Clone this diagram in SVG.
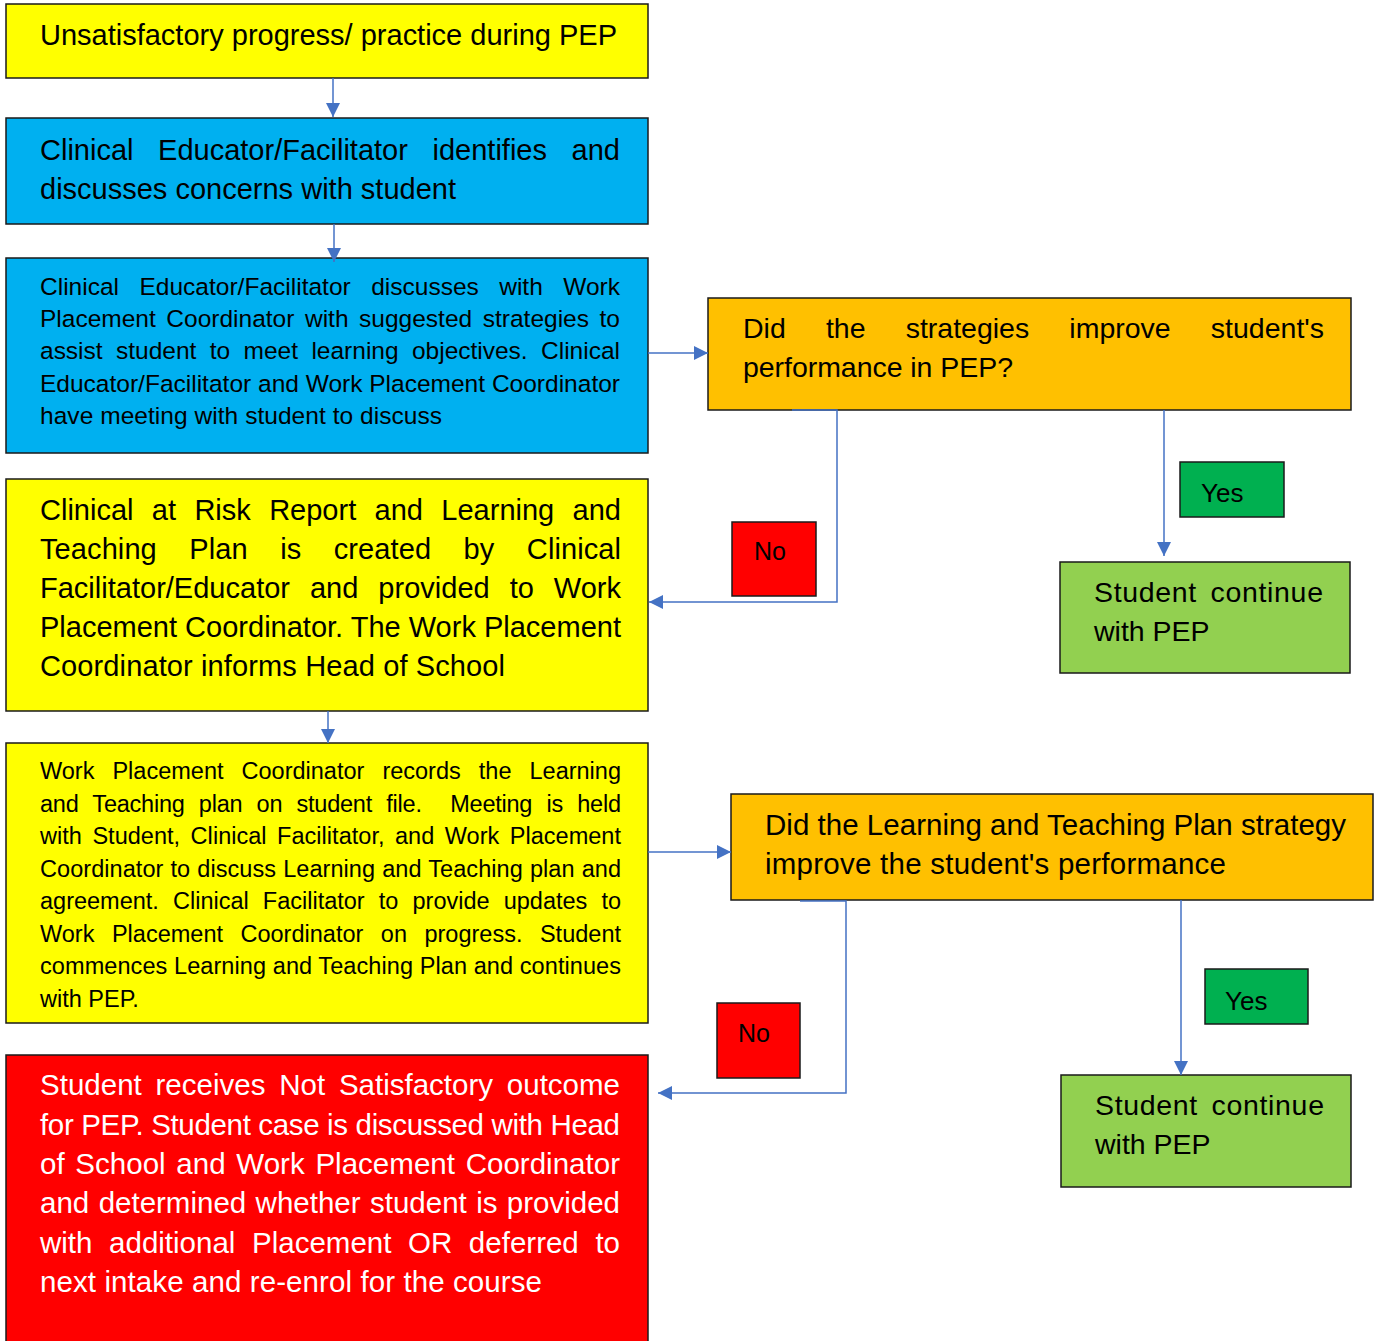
<svg xmlns="http://www.w3.org/2000/svg" width="1381" height="1341" viewBox="0 0 1381 1341">
<style>
.box{stroke:#1a1a1a;stroke-width:1.5}
.yel{fill:#FFFF00}.blu{fill:#00B0F0}.org{fill:#FFC000}.lgr{fill:#92D050}.dgr{fill:#00B050}.red{fill:#FF0000}
text{font-family:"Liberation Sans",Arial,sans-serif;fill:#000}
.w{fill:#fff}
.conn{fill:none;stroke:#4472C4;stroke-width:1.5}
</style>
<defs>
<marker id="ah" markerUnits="userSpaceOnUse" markerWidth="14" markerHeight="14" refX="14" refY="7" orient="auto">
<path d="M0,0 L14,7 L0,14 z" fill="#4472C4"/>
</marker>
</defs>
<rect width="1381" height="1341" fill="#fff"/>

<g id="n1">
<rect class="box yel" x="6" y="4" width="642" height="74"/>
<text x="40" y="45" font-size="29" textLength="577" lengthAdjust="spacing">Unsatisfactory progress/ practice during PEP</text>
</g>

<g id="n2">
<rect class="box blu" x="6" y="118" width="642" height="106"/>
<text x="40" y="160" font-size="29" word-spacing="16.6" textLength="580" lengthAdjust="spacing">Clinical Educator/Facilitator identifies and</text>
<text x="40" y="199" font-size="29" textLength="416" lengthAdjust="spacing">discusses concerns with student</text>
</g>

<g id="n3">
<rect class="box blu" x="6" y="258" width="642" height="195"/>
<g font-size="24.5">
<text x="40" y="295" word-spacing="13.6" textLength="580" lengthAdjust="spacing">Clinical Educator/Facilitator discusses with Work</text>
<text x="40" y="327" word-spacing="3.8" textLength="580" lengthAdjust="spacing">Placement Coordinator with suggested strategies to</text>
<text x="40" y="359" word-spacing="6.6" textLength="580" lengthAdjust="spacing">assist student to meet learning objectives. Clinical</text>
<text x="40" y="392" textLength="580" lengthAdjust="spacing">Educator/Facilitator and Work Placement Coordinator</text>
<text x="40" y="424" textLength="402" lengthAdjust="spacing">have meeting with student to discuss</text>
</g>
</g>

<g id="n4">
<rect class="box yel" x="6" y="479" width="642" height="232"/>
<g font-size="29">
<text x="40" y="520" word-spacing="10.3" textLength="581" lengthAdjust="spacing">Clinical at Risk Report and Learning and</text>
<text x="40" y="559" word-spacing="24.3" textLength="581" lengthAdjust="spacing">Teaching Plan is created by Clinical</text>
<text x="40" y="598" word-spacing="11.9" textLength="581" lengthAdjust="spacing">Facilitator/Educator and provided to Work</text>
<text x="40" y="637" textLength="581" lengthAdjust="spacing">Placement Coordinator. The Work Placement</text>
<text x="40" y="676" textLength="465" lengthAdjust="spacing">Coordinator informs Head of School</text>
</g>
</g>

<g id="n5">
<rect class="box yel" x="6" y="743" width="642" height="280"/>
<g font-size="23.5">
<text x="40" y="779" word-spacing="11.5" textLength="581" lengthAdjust="spacing">Work Placement Coordinator records the Learning</text>
<text x="40" y="812" xml:space="preserve" word-spacing="8" textLength="581" lengthAdjust="spacing">and Teaching plan on student file.  Meeting is held</text>
<text x="40" y="844" word-spacing="3.9" textLength="581" lengthAdjust="spacing">with Student, Clinical Facilitator, and Work Placement</text>
<text x="40" y="877" word-spacing="0.5" textLength="581" lengthAdjust="spacing">Coordinator to discuss Learning and Teaching plan and</text>
<text x="40" y="909" word-spacing="7.6" textLength="581" lengthAdjust="spacing">agreement. Clinical Facilitator to provide updates to</text>
<text x="40" y="942" word-spacing="10.9" textLength="581" lengthAdjust="spacing">Work Placement Coordinator on progress. Student</text>
<text x="40" y="974" textLength="581" lengthAdjust="spacing">commences Learning and Teaching Plan and continues</text>
<text x="40" y="1007">with PEP.</text>
</g>
</g>

<g id="n6">
<rect class="box red" x="6" y="1055" width="642" height="300"/>
<g font-size="29.5">
<text class="w" x="40" y="1095" word-spacing="5.6" textLength="580" lengthAdjust="spacing">Student receives Not Satisfactory outcome</text>
<text class="w" x="40" y="1135" textLength="580" lengthAdjust="spacing">for PEP. Student case is discussed with Head</text>
<text class="w" x="40" y="1174" word-spacing="2.5" textLength="580" lengthAdjust="spacing">of School and Work Placement Coordinator</text>
<text class="w" x="40" y="1213" word-spacing="1.2" textLength="580" lengthAdjust="spacing">and determined whether student is provided</text>
<text class="w" x="40" y="1253" word-spacing="8.4" textLength="580" lengthAdjust="spacing">with additional Placement OR deferred to</text>
<text class="w" x="40" y="1292" textLength="502" lengthAdjust="spacing">next intake and re-enrol for the course</text>
</g>
</g>

<g id="d1">
<rect class="box org" x="708" y="298" width="643" height="112"/>
<text x="743" y="338" font-size="28.5" word-spacing="32.2" textLength="581" lengthAdjust="spacing">Did the strategies improve student's</text>
<text x="743" y="377" font-size="28.5" textLength="270" lengthAdjust="spacing">performance in PEP?</text>
</g>

<g id="d2">
<rect class="box org" x="731" y="794" width="642" height="106"/>
<text x="765" y="835" font-size="29.5" textLength="581" lengthAdjust="spacing">Did the Learning and Teaching Plan strategy</text>
<text x="765" y="874" font-size="29.5" textLength="461" lengthAdjust="spacing">improve the student's performance</text>
</g>

<g id="s1">
<rect class="box lgr" x="1060" y="562" width="290" height="111"/>
<text x="1094" y="602" font-size="28.5" word-spacing="5" textLength="229" lengthAdjust="spacing">Student continue</text>
<text x="1094" y="641" font-size="28.5">with PEP</text>
</g>

<g id="s2">
<rect class="box lgr" x="1061" y="1075" width="290" height="112"/>
<text x="1095" y="1115" font-size="28.5" word-spacing="5" textLength="229" lengthAdjust="spacing">Student continue</text>
<text x="1095" y="1154" font-size="28.5">with PEP</text>
</g>

<g id="y1">
<rect class="box dgr" x="1180" y="462" width="104" height="55"/>
<text x="1201" y="502" font-size="26">Yes</text>
</g>
<g id="no1">
<rect class="box red" x="732" y="522" width="84" height="74"/>
<text x="754" y="560" font-size="25">No</text>
</g>
<g id="y2">
<rect class="box dgr" x="1205" y="969" width="103" height="55"/>
<text x="1225" y="1010" font-size="26">Yes</text>
</g>
<g id="no2">
<rect class="box red" x="717" y="1003" width="83" height="75"/>
<text x="738" y="1042" font-size="25">No</text>
</g>

<g id="connectors">
<path class="conn" d="M333,78 V117" marker-end="url(#ah)"/>
<path class="conn" d="M334,224 V262" marker-end="url(#ah)"/>
<path class="conn" d="M648,353 H708" marker-end="url(#ah)"/>
<path class="conn" d="M792,410 H837 V602 H649" marker-end="url(#ah)"/>
<path class="conn" d="M1164,410 V556" marker-end="url(#ah)"/>
<path class="conn" d="M328,711 V743" marker-end="url(#ah)"/>
<path class="conn" d="M648,852 H731" marker-end="url(#ah)"/>
<path class="conn" d="M800,901 H846 V1093 H658" marker-end="url(#ah)"/>
<path class="conn" d="M1181,900 V1075" marker-end="url(#ah)"/>
</g>
</svg>
